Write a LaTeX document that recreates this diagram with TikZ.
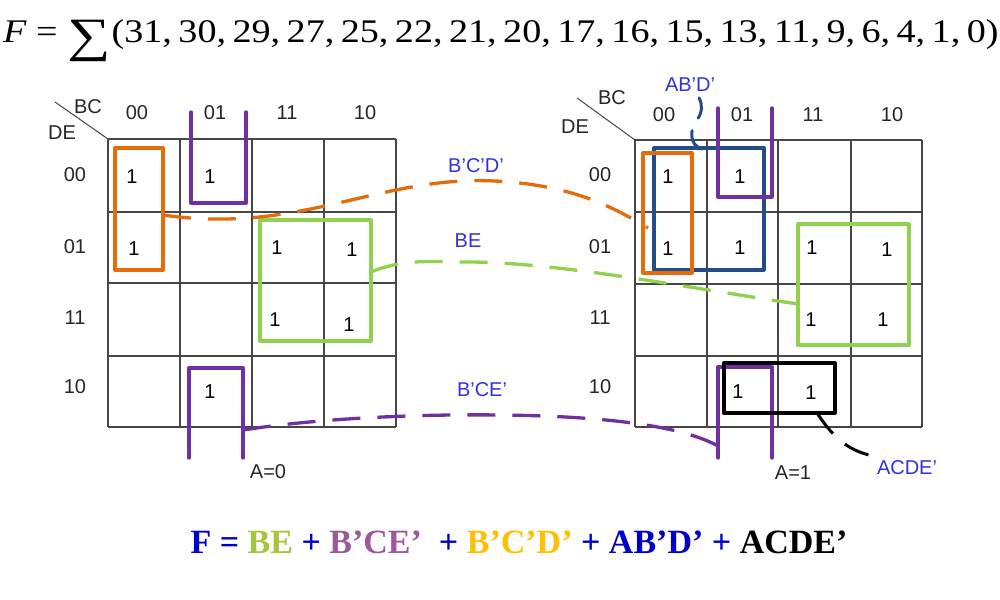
\documentclass[tikz,border=0pt]{standalone}
\usepackage{fontspec}
\setmainfont{Liberation Serif}
\newfontfamily\arialf{Liberation Sans}
\definecolor{gridc}{RGB}{70,70,70}
\definecolor{kor}{RGB}{228,108,10}
\definecolor{kpu}{RGB}{112,48,160}
\definecolor{kgr}{RGB}{146,208,80}
\definecolor{kbl}{RGB}{36,76,136}
\definecolor{lbl}{RGB}{50,50,220}
\definecolor{eqblue}{RGB}{0,0,204}
\definecolor{eqgreen}{RGB}{166,198,60}
\definecolor{eqpurple}{RGB}{155,89,155}
\definecolor{eqgold}{RGB}{255,192,0}
\newcommand\cm{,\kern0.17em}
\begin{document}
\begin{tikzpicture}[x=1pt,y=-1pt,
  gridline/.style={draw=gridc,line width=1.4pt},
  lab/.style={font=\arialf\fontsize{20}{22}\selectfont,inner sep=0pt,text=black!85},
  one/.style={font=\arialf\fontsize{20}{22}\selectfont,inner sep=0pt},
  grp/.style={line width=3.3pt,line join=round,line cap=round},
  dsh/.style={line width=3.3pt,dash pattern=on 28pt off 17pt},
  tag/.style={font=\arialf\fontsize{20}{22}\selectfont,inner sep=0pt,text=lbl}]
\useasboundingbox (0,0) rectangle (1000,599);
\fill[white] (0,0) rectangle (1000,599);

% top formula
\node[anchor=base west,inner sep=0pt] (top) at (3,43) {\scalebox{1.155}[1]{\fontsize{33}{36}\selectfont\itshape F\upshape\ =\ \raisebox{-9pt}{\scalebox{1.6}[1.45]{∑}}\kern1pt(31\cm30\cm29\cm27\cm25\cm22\cm21\cm20\cm17\cm16\cm15\cm13\cm11\cm9\cm6\cm4\cm1\cm0)}};

% left grid
\foreach \x in {108,180,252,324,396} \draw[gridline] (\x,139) -- (\x,427);
\foreach \y in {139,212,283,356,427} \draw[gridline] (108,\y) -- (396,\y);
\draw[gridc,line width=1pt] (55,102) -- (108,139);
\node[lab] (lBC) at (88,107) {BC};
\node[lab] (lDE) at (62,133) {DE};
\node[lab] (lc1) at (137,113) {00};
\node[lab] (lc2) at (215,113) {01};
\node[lab] (lc3) at (287,113) {11};
\node[lab] (lc4) at (365,113) {10};
\node[lab] (lr1) at (75,175) {00};
\node[lab] (lr2) at (75,247) {01};
\node[lab] (lr3) at (75,318) {11};
\node[lab] (lr4) at (75,387) {10};
\node[one] (la) at (132,177) {1};
\node[one] (lb) at (210,177) {1};
\node[one] (lc) at (134,249) {1};
\node[one] (ld) at (277,248) {1};
\node[one] (le) at (352,250) {1};
\node[one] (lf) at (275,320) {1};
\node[one] (lg) at (349,325) {1};
\node[one] (lh) at (210,392) {1};
\node[lab] (A0) at (268,472) {A=0};

% right grid
\foreach \x in {635,707,778,851,922} \draw[gridline] (\x,140) -- (\x,427);
\foreach \y in {140,212,284,356,427} \draw[gridline] (635,\y) -- (922,\y);
\draw[gridc,line width=1pt] (577,98) -- (635,140);
\node[lab] (rBC) at (612,98) {BC};
\node[lab] (rDE) at (575,127) {DE};
\node[lab] (rc1) at (664,115) {00};
\node[lab] (rc2) at (742,115) {01};
\node[lab] (rc3) at (813,115) {11};
\node[lab] (rc4) at (892,115) {10};
\node[lab] (rr1) at (600,175) {00};
\node[lab] (rr2) at (600,247) {01};
\node[lab] (rr3) at (600,318) {11};
\node[lab] (rr4) at (600,387) {10};
\node[one] (ra) at (668,177) {1};
\node[one] (rb) at (740,177) {1};
\node[one] (rc) at (668,249) {1};
\node[one] (rd) at (740,248) {1};
\node[one] (re) at (812,248) {1};
\node[one] (rf) at (887,250) {1};
\node[one] (rg) at (811,320) {1};
\node[one] (rh) at (883,320) {1};
\node[one] (ri) at (738,392) {1};
\node[one] (rj) at (811,393) {1};
\node[lab] (A1) at (793,473) {A=1};

% groups left
\draw[grp,kor] (115,148) rectangle (163,270);
\draw[grp,kpu] (191,112) -- (191,203) -- (246,203) -- (246,112);
\draw[grp,kgr] (260,220) rectangle (371,341);
\draw[grp,kpu] (189,458) -- (189,368) -- (243,368) -- (243,458);

% groups right
\draw[grp,kbl] (654,148) rectangle (764,270);
\draw[grp,kor] (643,153) rectangle (692,273);
\draw[grp,kpu] (718,108) -- (718,197) -- (772,197) -- (772,108);
\draw[grp,kgr] (798,224) rectangle (909,345);
\draw[grp,kpu] (718,458) -- (718,367) -- (772,367) -- (772,458);
\draw[grp,black] (724,363) rectangle (835,413);

% connectors
\coordinate (oS) at (163,215);
\coordinate (oE) at (648,228);
\coordinate (gS) at (371,272);
\coordinate (gE) at (798,304);
\coordinate (pS) at (243,430);
\coordinate (pE) at (718,446);
\coordinate (bS) at (703,149);
\coordinate (bE) at (699,98);
\coordinate (kS) at (817,413);
\coordinate (kE) at (878,457);
\draw[dsh,kor] (oS) .. controls (300,235) and (380,175) .. (495,181) .. controls (570,185) and (610,205) .. (oE);
\draw[dsh,kgr] (gS) .. controls (405,258) and (435,262) .. (467,262) .. controls (560,262) and (700,290) .. (gE);
\draw[dsh,kpu] (pS) .. controls (320,418) and (420,414) .. (500,415) .. controls (600,416) and (680,425) .. (pE);
\draw[kbl,line width=3pt,dash pattern=on 24pt off 14pt,line cap=round] (bS) .. controls (688,146) and (690,128) .. (697,120) .. controls (702,113) and (703,105) .. (bE);
\draw[black,line width=3pt,dash pattern=on 26pt off 16pt] (kS) .. controls (835,440) and (850,452) .. (kE);

\node[tag] (tBCD) at (476,166) {B’C’D’};
\node[tag] (tBE) at (468,241) {BE};
\node[tag] (tBCE) at (482,390) {B’CE’};
\node[tag] (tABD) at (690,85) {AB’D’};
\node[tag] (tACDE) at (907,468) {ACDE’};

% bottom equation
\node[anchor=base,inner sep=0pt,font=\bfseries\fontsize{34}{38}\selectfont] (eq) at (519,553) {\textcolor{eqblue}{F\ =\ }\textcolor{eqgreen}{BE}\textcolor{eqblue}{\ +\ }\textcolor{eqpurple}{B’CE’}\textcolor{eqblue}{\ \ +\ }\textcolor{eqgold}{B’C’D’}\textcolor{eqblue}{\ +\ AB’D’\ +\ }ACDE’};
\end{tikzpicture}
\end{document}
